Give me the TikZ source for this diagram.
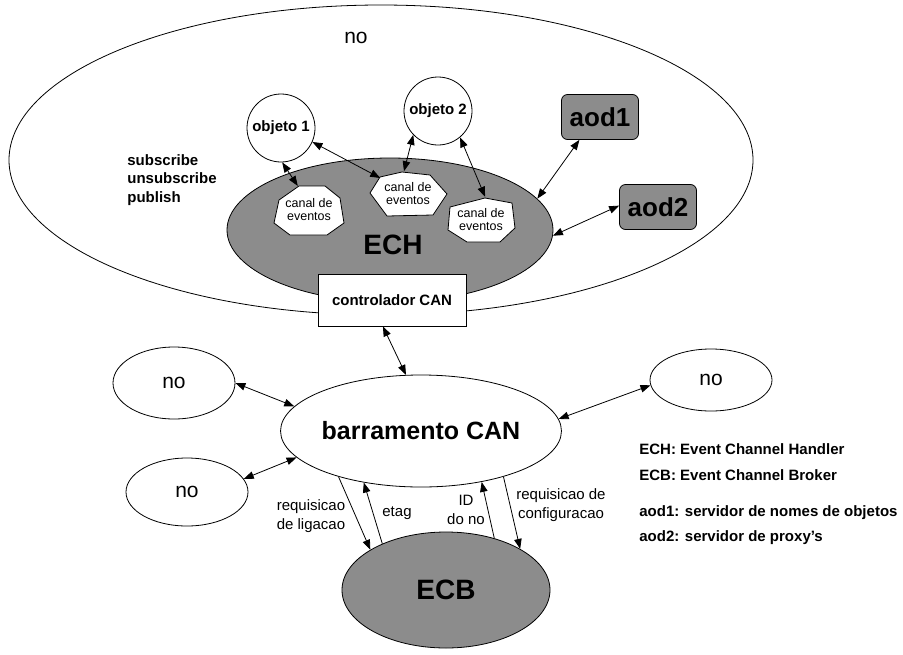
\documentclass[tikz,border=0pt]{standalone}
\usepackage{fontspec}
\setmainfont{Liberation Sans}
\usetikzlibrary{shapes.geometric,arrows.meta}
\definecolor{nodegray}{RGB}{140,140,140}
\newcommand\smallbold{\bfseries\fontsize{15}{18.5}\selectfont}
\newcommand\smallreg{\fontsize{15}{19}\selectfont}
\newcommand\canalfont{\fontsize{12.5}{13}\selectfont}
\newcommand\nofont{\fontsize{21}{24}\selectfont}
\begin{document}
\begin{tikzpicture}[x=1pt,y=-1pt,line width=0.8pt,
  tip/.tip={Triangle[length=10pt,width=7.5pt]},
  link/.style={tip-tip},
  oneway/.style={-tip},
  oval/.style={ellipse,draw,inner sep=0pt},
  grayoval/.style={oval,fill=nodegray},
  objcircle/.style={circle,draw,fill=white,inner sep=0pt,minimum size=68pt,font=\smallbold},
  canalpoly/.style={draw,fill=white},
  canal/.style={ellipse,inner sep=0pt,align=center,font=\canalfont},
  aodbox/.style={draw,fill=nodegray,rounded corners=6pt,minimum width=77pt,minimum height=45pt,
    font=\bfseries\fontsize{26}{28}\selectfont},
  noval/.style={oval,fill=white,minimum width=122pt,font=\nofont},
  legend/.style={anchor=west,font=\smallbold,inner sep=0pt}
]
\useasboundingbox (0,0) rectangle (903,654);

% the node and its event channel handler
\node[oval,minimum width=744pt,minimum height=310pt] (nodo) at (381,160) {};
\node[font=\nofont] (nodolbl) at (356,38) {no};
\node[grayoval,minimum width=326pt,minimum height=144pt] (ech) at (390,230) {};
\node[font=\bfseries\fontsize{28}{30}\selectfont] (echlbl) at (393,245) {ECH};
\node[draw,fill=white,minimum width=148pt,minimum height=52pt,font=\smallbold] (ctrl) at (392,300) {controlador CAN};

\node[anchor=west,align=left,font=\smallbold,inner sep=0pt] (ops) at (127,180) {subscribe\\unsubscribe\\publish};

% objects
\node[objcircle] (ob1) at (281,128) {objeto 1};
\node[objcircle] (ob2) at (438,111) {objeto 2};

% event channels
\coordinate (p1) at (309,210);
\coordinate (p2) at (408,194);
\coordinate (p3) at (481,220);
\draw[canalpoly] (p1) +(-10,-24) -- +(16,-24) -- +(31,-12) -- +(35,13) -- +(18,25) -- +(-19,25) -- +(-35,13) -- +(-30,-10) -- cycle;
\draw[canalpoly] (p2) +(-28,-17) -- +(-6,-22) -- +(22,-19) -- +(39,0) -- +(25,21) -- +(-21,22) -- +(-38,-1) -- cycle;
\draw[canalpoly] (p3) +(-31,-13) -- +(4,-22) -- +(31,-17) -- +(34,8) -- +(19,22) -- +(-14,22) -- +(-33,10) -- cycle;
\node[canal,minimum width=70pt,minimum height=50pt] (c1) at (p1) {canal de\\eventos};
\node[canal,minimum width=77pt,minimum height=45pt] (c2) at (p2) {canal de\\eventos};
\node[canal,minimum width=68pt,minimum height=46pt] (c3) at (p3) {canal de\\eventos};

% servers
\node[aodbox] (aod1) at (600,117) {aod1};
\node[aodbox] (aod2) at (658,207) {aod2};

% bus and its nodes
\node[oval,fill=white,minimum width=258pt,minimum height=112pt,font=\bfseries\fontsize{25}{27}\selectfont] (barr) at (421,431) {barramento CAN};
\node[noval,minimum height=72pt] (no1) at (174,383) {no};
\node[noval,minimum height=68pt] (no2) at (187,492) {no};
\node[noval,minimum height=62pt] (no3) at (711,380) {no};
\node[grayoval,minimum width=208pt,minimum height=116pt,font=\bfseries\fontsize{28}{30}\selectfont] (ecb) at (446,590) {ECB};

% connectors inside the node
\draw[link] (ob1.-88) -- (c1.115);
\draw[link] (ob1.-24) -- (c2.150);
\draw[link] (ob2.-136) -- (c2.100);
\draw[link] (ob2.-50) -- (c3.80);
\draw[link] (ech.12) -- (aod1.-132);
\draw[link] (ech.-2) -- (aod2.178);

% connectors on the bus
\draw[link] (ctrl.-109) -- (barr.105);
\draw[link] (no1.0) -- (barr.169);
\draw[link] (no2.13) -- (barr.-168);
\draw[link] (no3.185) -- (barr.5);

% bus <-> broker messages
\draw[oneway] (barr.-151) -- (ecb.152);
\draw[oneway] (ecb.144) -- (barr.-138);
\draw[oneway] (ecb.47) -- (barr.-40);
\draw[oneway] (barr.-29) -- (ecb.29);

\node[align=center,font=\smallreg] (lig) at (311,516) {requisicao\\de ligacao};
\node[font=\smallreg] (etag) at (397,513) {etag};
\node[align=center,font=\smallreg] (idno) at (466,510) {ID\\do no};
\node[align=center,font=\smallreg] (conf) at (561,505) {requisicao de\\configuracao};

% legend
\node[legend] (lg1) at (639,449) {ECH: Event Channel Handler};
\node[legend] (lg2) at (639,475) {ECB: Event Channel Broker};
\node[legend] (lg3) at (639,513) {aod1: servidor de nomes de objetos};
\node[legend] (lg4) at (639,538) {aod2: servidor de proxy’s};
\end{tikzpicture}
\end{document}
